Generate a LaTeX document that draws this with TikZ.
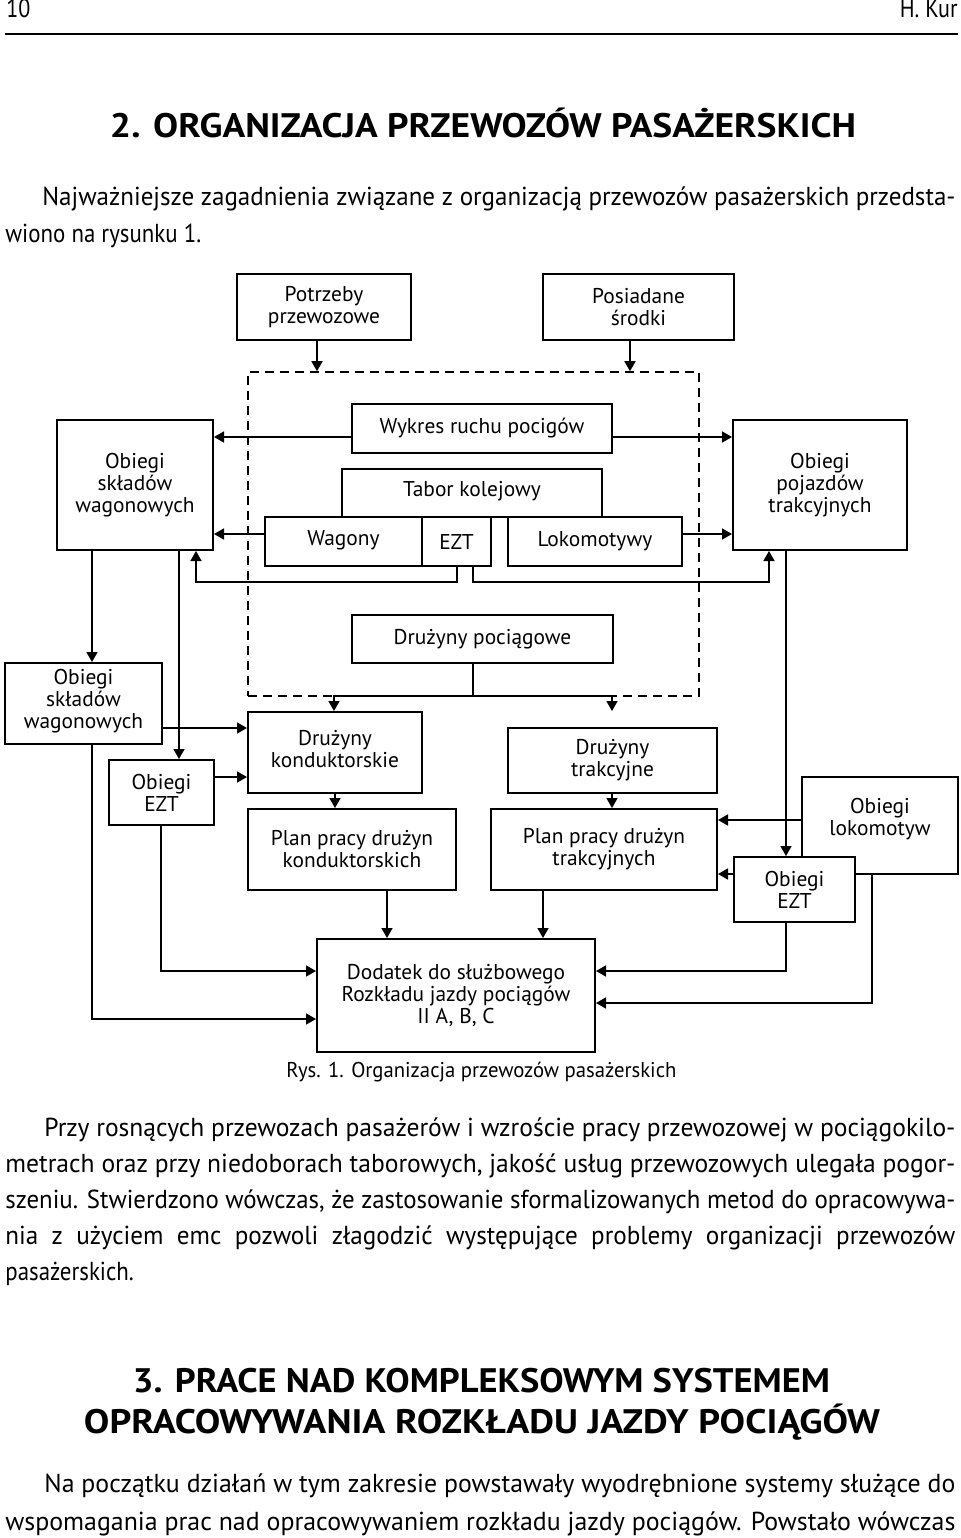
\documentclass[tikz,border=0pt]{standalone}
\usepackage{fontspec}
\usepackage{graphicx}
\setmainfont{PT Sans}
\newfontfamily\bodyf{PT Sans}
\usetikzlibrary{arrows.meta}
\newcommand\jline[2]{\resizebox{#1}{\height}{#2}}
\newcommand\bx[6]{\node[box,minimum width={(#4-#2)*0.5pt},minimum height={(#5-#3)*0.5pt}] (#1) at ({(#2+#4)/2},{(#3+#5)/2}) {#6};}
\tikzset{
  box/.style={draw,line width=1pt,fill=white,inner sep=0pt,align=center,font=\fontsize{10.7}{11}\selectfont},
  dashbox/.style={draw,line width=0.8pt,dash pattern=on 4.5pt off 3pt,inner sep=0pt},
  arr/.style={line width=0.8pt,-{Triangle[length=5pt,width=5.5pt]}},
  ln/.style={line width=0.8pt},
  body/.style={inner sep=0pt,font=\bodyf\fontsize{13}{15}\selectfont},
  head/.style={inner sep=0pt,font=\bodyf\bfseries\fontsize{17}{20}\selectfont},
}
\begin{document}
\begin{tikzpicture}[x=0.5pt,y=-0.5pt]
\useasboundingbox (0,0) rectangle (960,1538);
% header
\node[body,anchor=mid west,font=\bodyf\fontsize{13}{15}\selectfont] (pg) at (6,12) {\scalebox{0.85}[1]{10}};
\node[body,anchor=mid east,font=\bodyf\fontsize{13}{15}\selectfont] (au) at (958,12) {\scalebox{0.85}[1]{H. Kur}};
\coordinate (rl) at (5,34); \coordinate (rr) at (958,34);
\draw[line width=1pt] (rl) -- (rr);
% title
\node[head,anchor=base] (t2) at (483,137) {\jline{373pt}{2. ORGANIZACJA PRZEWOZÓW PASAŻERSKICH}};
\node[body,anchor=mid west] (p1a) at (42,200) {\jline{456.5pt}{Najważniejsze zagadnienia związane z organizacją przewozów pasażerskich przedsta-}};
\node[body,anchor=mid west] (p1b) at (5,237) {\scalebox{0.88}[1]{wiono na rysunku 1.}};
% diagram
\node[dashbox,minimum width={(699-248)*0.5pt},minimum height={(696-372)*0.5pt}] (dash) at ({(248+699)/2},{(372+696)/2}) {};
\bx{potrz}{237}{274}{411}{340}{Potrzeby\\przewozowe}
\bx{posiad}{543}{274}{734}{340}{Posiadane\\środki}
\bx{wyk}{352}{404}{612}{453}{Wykres ruchu pocigów}
\bx{tabor}{342}{469}{602}{517}{Tabor kolejowy\\[-7pt]}
\bx{wag}{265}{517}{422}{566}{Wagony\\[-7pt]}
\bx{ezt}{422}{517}{491}{566}{EZT}
\bx{lok}{508}{517}{682}{566}{Lokomotywy}
\bx{obskla}{57}{420}{213}{550}{Obiegi\\składów\\wagonowych}
\bx{obpoj}{733}{420}{907}{550}{Obiegi\\pojazdów\\trakcyjnych}
\bx{dpoc}{352}{615}{613}{663}{Drużyny pociągowe}
\bx{obsklb}{5}{663}{162}{744}{Obiegi\\składów\\wagonowych\\[-6pt]}
\bx{obezta}{109}{760}{214}{825}{Obiegi\\EZT}
\bx{dkond}{248}{712}{422}{793}{Drużyny\\konduktorskie\\[-7pt]}
\bx{pkond}{248}{809}{456}{890}{Plan pracy drużyn\\konduktorskich}
\bx{dtrak}{508}{728}{717}{793}{Drużyny\\trakcyjne}
\bx{ptrak}{491}{809}{717}{890}{Plan pracy drużyn\\trakcyjnych}
\bx{oblok}{802}{777}{958}{874}{Obiegi\\lokomotyw\\[-2.5pt]}
\bx{obeztb}{734}{857}{855}{922}{Obiegi\\EZT}
\bx{dod}{317}{939}{595}{1052}{Dodatek do służbowego\\Rozkładu jazdy pociągów\\II A, B, C}
% connectors
\draw[arr] (potrz.south -| 317,0) -- (dash.north -| 317,0);
\draw[arr] (posiad.south -| 630,0) -- (dash.north -| 630,0);
\draw[arr] (wyk.west |- 0,437) -- (obskla.east |- 0,437);
\draw[arr] (wyk.east |- 0,437) -- (obpoj.west |- 0,437);
\draw[arr] (wag.west |- 0,534) -- (obskla.east |- 0,534);
\draw[arr] (lok.east |- 0,534) -- (obpoj.west |- 0,534);
\draw[arr] (ezt.south -| 457,0) -- (457,582) -- (196,582) -- (obskla.south -| 196,0);
\draw[arr] (ezt.south -| 473,0) -- (473,582) -- (769,582) -- (obpoj.south -| 769,0);
\draw[arr] (obskla.south -| 92,0) -- (obsklb.north -| 92,0);
\draw[arr] (obskla.south -| 179,0) -- (obezta.north -| 179,0);
\coordinate (j) at (473,696);
\coordinate (tend) at (612,711);
\draw[ln] (dpoc.south -| j) -- (j);
\draw[arr] (j) -| (dkond.north -| 334,0);
\draw[arr] (j) -| (tend);
\draw[arr] (obsklb.east |- 0,728) -- (dkond.west |- 0,728);
\draw[arr] (obezta.east |- 0,777) -- (dkond.west |- 0,777);
\draw[arr] (dkond.south -| 335,0) -- (pkond.north -| 335,0);
\draw[arr] (dtrak.south -| 612,0) -- (ptrak.north -| 612,0);
\draw[arr] (pkond.south -| 387,0) -- (dod.north -| 387,0);
\draw[arr] (ptrak.south -| 543,0) -- (dod.north -| 543,0);
\draw[arr] (obsklb.south -| 92,0) |- (dod.west |- 0,1019);
\draw[arr] (obezta.south -| 161,0) |- (dod.west |- 0,971);
\draw[arr] (oblok.west |- 0,820) -- (ptrak.east |- 0,820);
\draw[arr] (obeztb.west |- 0,874) -- (ptrak.east |- 0,874);
\draw[arr] (obpoj.south -| 786,0) -- (obeztb.north -| 786,0);
\draw[arr] (oblok.south -| 872,0) |- (dod.east |- 0,1003);
\draw[arr] (obeztb.south -| 786,0) |- (dod.east |- 0,971);
% caption
\node[body,anchor=mid west,font=\bodyf\fontsize{10.7}{12}\selectfont] (cap) at (286,1072) {\jline{195pt}{Rys. 1. Organizacja przewozów pasażerskich}};
% paragraph 2
\node[body,anchor=mid west] (p2a) at (44,1131) {\jline{455.5pt}{Przy rosnących przewozach pasażerów i wzroście pracy przewozowej w pociągokilo-}};
\node[body,anchor=mid west] (p2b) at (5,1167) {\jline{475pt}{metrach oraz przy niedoborach taborowych, jakość usług przewozowych ulegała pogor-}};
\node[body,anchor=mid west] (p2c) at (5,1203) {\jline{475pt}{szeniu. Stwierdzono wówczas, że zastosowanie sformalizowanych metod do opracowywa-}};
\node[body,anchor=mid west] (p2d) at (5,1239) {\jline{475pt}{nia~~z~~użyciem~~emc~~pozwoli~~złagodzić~~występujące~~problemy~~organizacji~~przewozów}};
\node[body,anchor=mid west] (p2e) at (5,1275) {\scalebox{0.88}[1]{pasażerskich.}};
% heading 3
\node[head,anchor=base] (h3a) at (481.5,1392) {\jline{348.5pt}{3. PRACE NAD KOMPLEKSOWYM SYSTEMEM}};
\node[head,anchor=base] (h3b) at (482,1433) {\jline{398pt}{OPRACOWYWANIA ROZKŁADU JAZDY POCIĄGÓW}};
% paragraph 3
\node[body,anchor=mid west] (p3a) at (44,1487) {\jline{455.5pt}{Na początku działań w tym zakresie powstawały wyodrębnione systemy służące do}};
\node[body,anchor=mid west] (p3b) at (5,1525) {\jline{475pt}{wspomagania prac nad opracowywaniem rozkładu jazdy pociągów. Powstało wówczas}};
\end{tikzpicture}
\end{document}
